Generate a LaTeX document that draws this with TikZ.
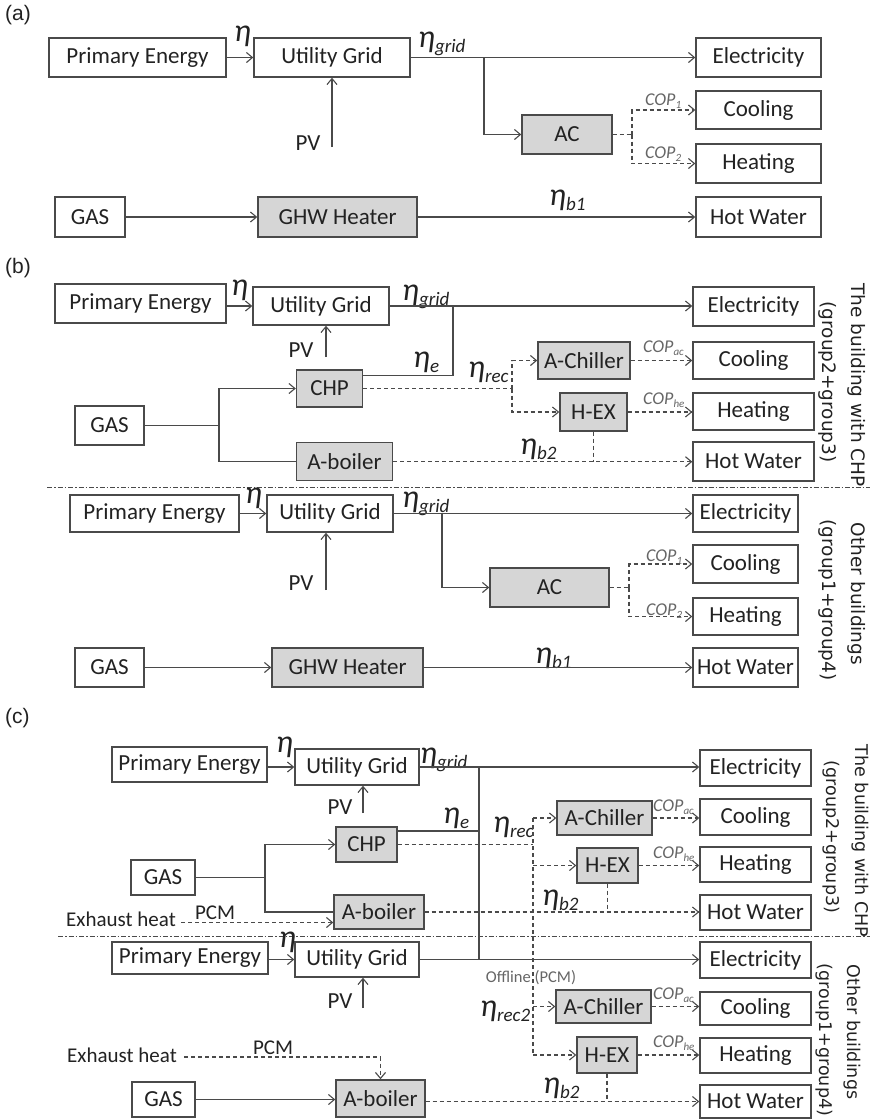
\documentclass[tikz,border=0pt]{standalone}
\usepackage{fontspec}
\setmainfont{Carlito}
\newfontfamily\labelfont{Liberation Sans}
\newfontfamily\sidefont{DejaVu Sans}
\usetikzlibrary{arrows.meta,calc}

\definecolor{lncol}{HTML}{4A4A4A}
\definecolor{boxfill}{HTML}{D6D6D6}
\definecolor{copcol}{HTML}{666666}
\definecolor{txtcol}{HTML}{222222}

% efficiency symbol with subscript
\newcommand{\etasub}[1]{{\fontsize{32}{32}\selectfont\itshape η}\raisebox{-5pt}{\fontsize{19}{19}\selectfont\itshape #1}}
% coefficient of performance with subscript
\newcommand{\copsub}[1]{COP\raisebox{-3pt}{\fontsize{11}{11}\selectfont #1}}

\tikzset{
  box/.style={draw=lncol, line width=1.4pt, fill=white, inner sep=0pt,
              font=\fontsize{23}{25}\selectfont, text=txtcol},
  unit/.style={box, fill=boxfill},
  sz/.style 2 args={minimum width=#1pt, minimum height=#2pt},
  ln/.style={draw=lncol, line width=1.1pt},
  tip/.style={-{Straight Barb[length=6pt,width=10pt,line width=1.1pt]}},
  arr/.style={ln, tip},
  dsh/.style={ln, dash pattern=on 4pt off 3pt},
  darr/.style={dsh, tip},
  sep/.style={draw=lncol, line width=1pt, dash pattern=on 5pt off 2pt on 1.5pt off 2pt},
  eta/.style={inner sep=0pt, anchor=base west, text=txtcol},
  cop/.style={inner sep=0pt, anchor=base west, text=copcol, font=\fontsize{18}{18}\selectfont\itshape},
  plain/.style={inner sep=0pt, text=txtcol, font=\fontsize{23}{25}\selectfont},
  small/.style={inner sep=0pt, text=txtcol, font=\fontsize{21}{23}\selectfont},
  side/.style={rotate=-90, inner sep=0pt, text=txtcol, font=\sidefont\fontsize{18.5}{20}\selectfont},
  sidec/.style={side, font=\sidefont\fontsize{17.5}{19}\selectfont},
  tag/.style={inner sep=0pt, anchor=west, text=txtcol, font=\labelfont\fontsize{21}{22}\selectfont}
}

\begin{document}
\begin{tikzpicture}[x=1pt,y=-1pt]
\fill[white] (0,0) rectangle (870,1120);
\useasboundingbox (0,0) rectangle (870,1120);

% ---------------- (a) ----------------
\node[tag] (ta) at (5,15) {(a)};
\node[box, sz={177}{39}] (pa) at (137.5,57.5) {Primary Energy};
\node[box, sz={156}{39}] (ua) at (332,57.5) {Utility Grid};
\node[box, sz={125}{39}] (ea) at (758.5,57.5) {Electricity};
\node[unit, sz={90}{39}] (aca) at (567,134.5) {AC};
\node[box, sz={125}{38}] (ca) at (758.5,110) {Cooling};
\node[box, sz={125}{39}] (ha) at (758.5,163.5) {Heating};
\node[box, sz={70}{40}] (ga) at (90,217) {GAS};
\node[unit, sz={159}{40}] (gha) at (337.5,217) {GHW Heater};
\node[box, sz={125}{40}] (wa) at (758.5,217) {Hot Water};
\node[plain] (pva) at (308,143) {PV};
\coordinate (pvaa) at (332,147);
\coordinate (ja) at (484,57.5);
\coordinate (da) at (632,134.5);

\node[eta] (la1) at (234,41) {\etasub{}};
\node[eta] (la2) at (418,47) {\etasub{grid}};
\node[eta] (la3) at (549,205) {\etasub{b1}};
\node[cop] (ka1) at (645,105) {\copsub{1}};
\node[cop] (ka2) at (645,158) {\copsub{2}};

\draw[arr] (pa.east) -- (ua.west);
\draw[arr] (ua.east) -- (ea.west);
\draw[arr] (ja) |- (aca.west);
\draw[arr] (pvaa) -- (pvaa |- ua.south);
\draw[dsh] (aca.east) -- (da);
\draw[darr] (da) |- (ca.west);
\draw[darr] (da) |- (ha.west);
\draw[arr] (ga.east) -- (gha.west);
\draw[arr] (gha.east) -- (wa.west);

% ---------------- (b), buildings with CHP ----------------
\node[tag] (tb) at (5,268) {(b)};
\node[box, sz={171}{39}] (pb) at (140.5,303.5) {Primary Energy};
\node[box, sz={136}{38}] (ub) at (321,306) {Utility Grid};
\node[box, sz={121}{39}] (eb) at (753.5,306.5) {Electricity};
\node[unit, sz={66}{37}] (chpb) at (329.5,388.5) {CHP};
\node[unit, sz={92}{37}] (acb) at (584,360.5) {A-Chiller};
\node[unit, sz={67}{38}] (hxb) at (593.5,412) {H-EX};
\node[box, sz={121}{37}] (cb) at (753.5,360.5) {Cooling};
\node[box, sz={121}{37}] (hb) at (753.5,411.5) {Heating};
\node[box, sz={121}{39}] (wb) at (753.5,461.5) {Hot Water};
\node[box, sz={69}{39}] (gb) at (109.5,425.5) {GAS};
\node[unit, sz={96}{38}] (abb) at (344.5,461.7) {A-boiler};
\node[plain] (pvb) at (301,350) {PV};
\coordinate (pvba) at (326,357);
\coordinate (jb) at (453,306);
\coordinate (kb) at (512,388.5);
\coordinate (gjb) at (219,425.5);

\node[eta] (lb1) at (231,295) {\etasub{}};
\node[eta] (lb2) at (402,300) {\etasub{grid}};
\node[eta] (lb3) at (413,367) {\etasub{e}};
\node[eta] (lb4) at (468,377) {\etasub{rec}};
\node[eta] (lb5) at (520,454) {\etasub{b2}};
\node[cop] (kb1) at (643,352) {\copsub{ac}};
\node[cop] (kb2) at (643,404) {\copsub{he}};

\draw[arr] (ub.west -| pb.east) -- (ub.west);
\draw[arr] (ub.east) -- (ub.east -| eb.west);
\draw[ln] ([yshift=13pt]chpb.east) -| (jb);
\draw[arr] (pvba) -- (pvba |- ub.south);
\draw[dsh] (chpb.east) -- (kb);
\draw[darr] (kb) |- (acb.west);
\draw[darr] (kb) |- (hxb.west);
\draw[darr] (acb.east) -- (acb.east -| cb.west);
\draw[darr] (hxb.east) -- (hxb.east -| hb.west);
\draw[darr] (abb.east) -- (abb.east -| wb.west);
\draw[dsh] (hxb.south) -- (hxb.south |- wb.west);
\draw[ln] (gb.east) -- (gjb);
\draw[arr] (gjb) |- (chpb.west);
\draw[ln] (gjb) |- (abb.west);

\node[side] (sb1) at (857,385) {The building with CHP};
\node[side] (sb2) at (828,382) {(group2+group3)};

\draw[sep] (47,487) -- (870,487);

% ---------------- (b), other buildings ----------------
\node[box, sz={169}{37}] (pb2) at (154.5,513.5) {Primary Energy};
\node[box, sz={126}{37}] (ub2) at (330,513.5) {Utility Grid};
\node[box, sz={105}{37}] (eb2) at (745.5,513.5) {Electricity};
\node[unit, sz={119}{39}] (acb2) at (549.5,587.5) {AC};
\node[box, sz={105}{38}] (cb2) at (745.5,564) {Cooling};
\node[box, sz={105}{37}] (hb2) at (745.5,616.5) {Heating};
\node[box, sz={69}{39}] (gb2) at (109.5,667.5) {GAS};
\node[unit, sz={151}{39}] (ghb2) at (347.5,667.5) {GHW Heater};
\node[box, sz={105}{39}] (wb2) at (745.5,667.5) {Hot Water};
\node[plain] (pvb2) at (301,583) {PV};
\coordinate (pvbb) at (326,590);
\coordinate (jb2) at (442,513.5);
\coordinate (db2) at (629,587.5);

\node[eta] (lb6) at (245,503) {\etasub{}};
\node[eta] (lb7) at (402,507) {\etasub{grid}};
\node[eta] (lb8) at (535,663) {\etasub{b1}};
\node[cop] (kb3) at (646,561) {\copsub{1}};
\node[cop] (kb4) at (646,615) {\copsub{2}};

\draw[arr] (ub2.west -| pb2.east) -- (ub2.west);
\draw[arr] (ub2.east) -- (ub2.east -| eb2.west);
\draw[arr] (jb2) |- (acb2.west);
\draw[arr] (pvbb) -- (pvbb |- ub2.south);
\draw[dsh] (acb2.east) -- (db2);
\draw[darr] (db2) |- (cb2.west);
\draw[darr] (db2) |- (hb2.west);
\draw[arr] (gb2.east) -- (ghb2.west);
\draw[arr] (ghb2.east) -- (wb2.west);

\node[side] (sb3) at (857,594) {Other buildings};
\node[side] (sb4) at (828,600) {(group1+group4)};

% ---------------- (c), buildings with CHP ----------------
\node[tag] (tc) at (5,718) {(c)};
\node[box, sz={155}{35}] (pc1) at (189.5,764.5) {Primary Energy};
\node[box, sz={124}{36}] (uc1) at (357,767) {Utility Grid};
\node[box, sz={111}{36}] (ec1) at (755.5,768) {Electricity};
\node[unit, sz={61}{35}] (chpc) at (366.5,844.5) {CHP};
\node[unit, sz={95}{34}] (acc) at (604.5,818) {A-Chiller};
\node[unit, sz={61}{35}] (hxc) at (607.5,865.5) {H-EX};
\node[box, sz={111}{36}] (cc) at (755.5,817) {Cooling};
\node[box, sz={111}{35}] (hc) at (755.5,864.5) {Heating};
\node[box, sz={111}{35}] (wc) at (755.5,912.5) {Hot Water};
\node[box, sz={64}{35}] (gc) at (163,877.5) {GAS};
\node[unit, sz={90}{34}] (abc) at (379,912) {A-boiler};
\node[plain] (pvc) at (340,807) {PV};
\node[small, anchor=base west] (exh1) at (66,926) {Exhaust heat};
\node[small, anchor=base] (pcm1) at (215,919.5) {PCM};
\coordinate (pvca) at (363,813);
\coordinate (exc) at (181,922.5);
\coordinate (jc1) at (479,768);
\coordinate (jc2) at (479,959.5);
\coordinate (kc1) at (533,818);
\coordinate (kc2) at (533,1055);
\coordinate (gjc) at (265,877.5);

\node[eta] (lc1) at (276,752) {\etasub{}};
\node[eta] (lc2) at (420,763) {\etasub{grid}};
\node[eta] (lc3) at (443,823) {\etasub{e}};
\node[eta] (lc4) at (493,832) {\etasub{rec}};
\node[eta] (lc5) at (542,905) {\etasub{b2}};
\node[cop] (kc3) at (653,811) {\copsub{ac}};
\node[cop] (kc4) at (653,858) {\copsub{he}};

\draw[arr] (uc1.west -| pc1.east) -- (uc1.west);
\draw[arr] (uc1.east) -- (uc1.east -| ec1.west);
\draw[ln] (jc1) -- (jc2);
\draw[ln, line width=1.8pt] ([yshift=13.5pt]chpc.east) -- ([yshift=13.5pt]chpc.east -| jc1);
\draw[arr] (pvca) -- (pvca |- uc1.south);
\draw[dsh] (chpc.east) -- (chpc.east -| kc1);
\draw[dsh] (kc1) -- (kc2);
\draw[darr] (kc1) -- (acc.west);
\draw[darr] (hxc.west -| kc1) -- (hxc.west);
\draw[darr] (acc.east) -- (acc.east -| cc.west);
\draw[darr] (hxc.east) -- (hxc.east -| hc.west);
\draw[darr] (abc.east) -- (abc.east -| wc.west);
\draw[dsh] (hxc.south) -- (hxc.south |- wc.west);
\draw[ln] (gc.east) -- (gjc);
\draw[arr] (gjc) |- (chpc.west);
\draw[ln] (gjc) |- (abc.west);
\draw[darr] (exc) -- (exc -| abc.west);

\node[sidec] (sc1) at (860,841) {The building with CHP};
\node[sidec] (sc2) at (831,837) {(group2+group3)};

\draw[sep] (58,936) -- (870,936);

% ---------------- (c), other buildings ----------------
\node[box, sz={156}{32}] (pc2) at (190,958) {Primary Energy};
\node[box, sz={124}{35}] (uc2) at (357,959.5) {Utility Grid};
\node[box, sz={111}{36}] (ec2) at (755.5,960) {Electricity};
\node[unit, sz={95}{33}] (acc2) at (603.5,1006.5) {A-Chiller};
\node[unit, sz={60}{36}] (hxc2) at (607,1055) {H-EX};
\node[box, sz={111}{33}] (cc2) at (755.5,1008.5) {Cooling};
\node[box, sz={111}{35}] (hc2) at (755.5,1055.5) {Heating};
\node[box, sz={111}{33}] (wc2) at (755.5,1101.5) {Hot Water};
\node[unit, sz={89}{37}] (abc2) at (380.5,1098.5) {A-boiler};
\node[box, sz={63}{35}] (gc2) at (163.5,1099.5) {GAS};
\node[plain] (pvc2) at (340,1001) {PV};
\node[inner sep=0pt, anchor=base, text=copcol, font=\fontsize{16.5}{18}\selectfont] (off) at (531,982) {Offline (PCM)};
\node[small, anchor=base west] (exh2) at (67,1062) {Exhaust heat};
\node[small, anchor=base] (pcm2) at (273,1054) {PCM};
\coordinate (pvcb) at (363,1008);
\coordinate (exd) at (184,1057);

\node[eta] (lc6) at (279,947) {\etasub{}};
\node[eta] (lc7) at (480,1016) {\etasub{rec2}};
\node[eta] (lc8) at (543,1093) {\etasub{b2}};
\node[cop] (kc5) at (653,999) {\copsub{ac}};
\node[cop] (kc6) at (653,1047) {\copsub{he}};

\draw[arr] (uc2.west -| pc2.east) -- (uc2.west);
\draw[arr] (uc2.east) -- (uc2.east -| ec2.west);
\draw[arr] (pvcb) -- (pvcb |- uc2.south);
\draw[darr] (acc2.west -| kc1) -- (acc2.west);
\draw[darr] (kc2) -- (hxc2.west);
\draw[darr] (acc2.east) -- (acc2.east -| cc2.west);
\draw[darr] (hxc2.east) -- (hxc2.east -| hc2.west);
\draw[darr] (wc2.west -| abc2.east) -- (wc2.west);
\draw[dsh] (hxc2.south) -- (hxc2.south |- wc2.west);
\draw[arr] (gc2.east) -- (gc2.east -| abc2.west);
\draw[darr] (exd) -| (abc2.north);

\node[sidec] (sc3) at (852,1032) {Other buildings};
\node[sidec] (sc4) at (824,1040) {(group1+group4)};
\end{tikzpicture}
\end{document}
